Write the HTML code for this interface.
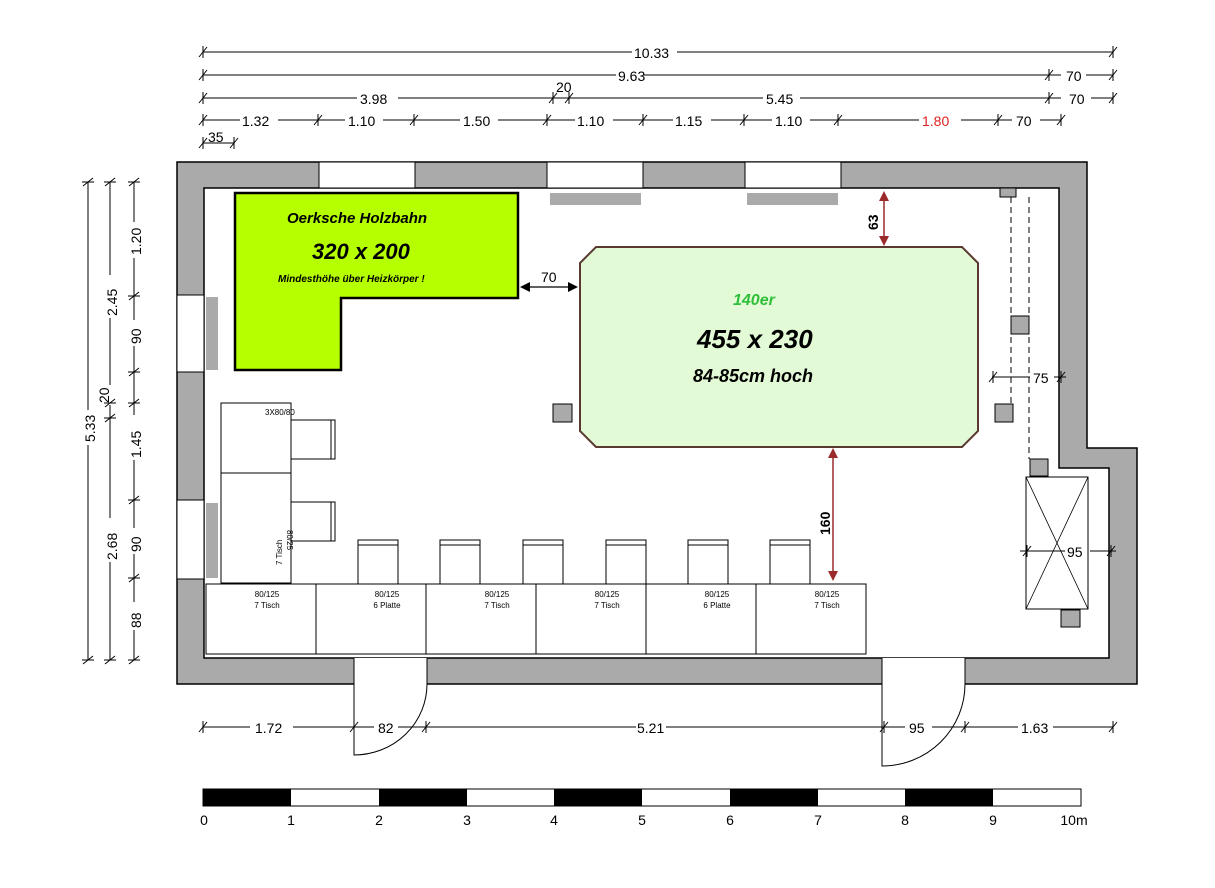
<!DOCTYPE html>
<html><head><meta charset="utf-8"><style>
html,body{margin:0;padding:0;background:#fff;}
svg{display:block;}
.d{font-family:"Liberation Sans",sans-serif;font-size:14px;fill:#000;}
.s{font-family:"Liberation Sans",sans-serif;font-size:8px;fill:#000;}
.c{font-family:"Comic Sans MS","Liberation Sans",sans-serif;font-weight:bold;font-style:italic;}
</style></head><body>
<svg width="1215" height="888" viewBox="0 0 1215 888" xmlns="http://www.w3.org/2000/svg">
<defs>
<g id="t"><line x1="0" y1="-6" x2="0" y2="6" stroke="#000" stroke-width="1"/><line x1="-4" y1="5" x2="4" y2="-5" stroke="#000" stroke-width="1"/></g>
<g id="tv"><line x1="-6" y1="0" x2="6" y2="0" stroke="#000" stroke-width="1"/><line x1="-5" y1="4" x2="5" y2="-4" stroke="#000" stroke-width="1"/></g>
</defs>

<!-- walls -->
<path d="M177,162 H1087 V448 H1137 V684 H177 Z M204,188 V658 H1109 V468 H1059 V188 Z" fill="#aaaaaa" fill-rule="evenodd" stroke="#000" stroke-width="1.5"/>
<!-- window openings top -->
<rect x="319" y="162" width="96" height="26" fill="#fff" stroke="#000"/>
<rect x="547" y="162" width="96" height="26" fill="#fff" stroke="#000"/>
<rect x="745" y="162" width="96" height="26" fill="#fff" stroke="#000"/>
<!-- left windows -->
<rect x="177" y="295" width="27" height="77" fill="#fff" stroke="#000"/>
<rect x="177" y="500" width="27" height="79" fill="#fff" stroke="#000"/>
<!-- door openings -->
<rect x="354" y="658" width="73" height="27" fill="#fff"/>
<rect x="882" y="658" width="83" height="27" fill="#fff"/>
<line x1="354" y1="658" x2="354" y2="684" stroke="#000"/>
<line x1="427" y1="658" x2="427" y2="684" stroke="#000"/>
<line x1="882" y1="658" x2="882" y2="684" stroke="#000"/>
<line x1="965" y1="658" x2="965" y2="684" stroke="#000"/>
<!-- doors -->
<path d="M354,684 V755 A73,71 0 0 0 427,684" fill="none" stroke="#000" stroke-width="1"/>
<path d="M882,684 V766 A83,82 0 0 0 965,684" fill="none" stroke="#000" stroke-width="1"/>

<!-- radiators -->
<rect x="550" y="193" width="91" height="12" fill="#aaa"/>
<rect x="747" y="193" width="91" height="12" fill="#aaa"/>
<rect x="206" y="297" width="12" height="73" fill="#aaa"/>
<rect x="206" y="503" width="12" height="75" fill="#aaa"/>

<!-- green Holzbahn -->
<path d="M235,193 H518 V298 H341 V370 H235 Z" fill="#b5ff00" stroke="#000" stroke-width="2.5"/>
<text class="c" x="287" y="223" font-size="15">Oerksche Holzbahn</text>
<text class="c" x="312" y="259" font-size="22">320 x 200</text>
<text class="c" x="278" y="282" font-size="10">Mindesthöhe über Heizkörper !</text>

<!-- 70 arrow -->
<line x1="527" y1="287" x2="572" y2="287" stroke="#000" stroke-width="1.2"/>
<path d="M520,287 L530,282 L530,292 Z M578,287 L568,282 L568,292 Z" fill="#000"/>
<text class="d" x="541" y="282" font-size="14">70</text>

<!-- big table -->
<path d="M596,247 H962 L978,263 V431 L962,447 H596 L580,431 V263 Z" fill="#e2fbd6" stroke="#5a3a30" stroke-width="2"/>
<text class="c" x="733" y="305" font-size="16" fill="#2fbf3a">140er</text>
<text class="c" x="697" y="348" font-size="26">455 x 230</text>
<text class="c" x="693" y="382" font-size="18">84-85cm hoch</text>

<!-- red arrows -->
<line x1="884" y1="198" x2="884" y2="240" stroke="#9b2a2a" stroke-width="1.5"/>
<path d="M884,191 L879,201 L889,201 Z M884,246 L879,236 L889,236 Z" fill="#9b2a2a"/>
<text class="d" font-size="13" font-weight="bold" fill="#9b2a2a" transform="translate(878,230) rotate(-90)">63</text>
<line x1="833" y1="455" x2="833" y2="574" stroke="#9b2a2a" stroke-width="1.5"/>
<path d="M833,448 L828,458 L838,458 Z M833,581 L828,571 L838,571 Z" fill="#9b2a2a"/>
<text class="d" font-size="13" font-weight="bold" fill="#9b2a2a" transform="translate(830,535) rotate(-90)">160</text>

<!-- small squares -->
<g fill="#aaa" stroke="#000" stroke-width="1">
<rect x="553" y="404" width="19" height="18"/>
<rect x="995" y="404" width="18" height="18"/>
<rect x="1011" y="316" width="18" height="18"/>
<rect x="1030" y="459" width="18" height="17"/>
<rect x="1061" y="610" width="19" height="17"/>
<rect x="1000" y="188" width="16" height="9"/>
</g>
<line x1="1011" y1="197" x2="1011" y2="404" stroke="#000" stroke-dasharray="6,4"/>
<line x1="1029" y1="197" x2="1029" y2="459" stroke="#000" stroke-dasharray="6,4"/>
<!-- X box -->
<rect x="1026" y="477" width="62" height="132" fill="#fff" stroke="#000"/>
<path d="M1026,477 L1088,609 M1088,477 L1026,609" stroke="#000" stroke-width="0.8"/>
<!-- 75 dim -->
<line x1="992" y1="377" x2="1030" y2="377" stroke="#000"/>
<line x1="1054" y1="377" x2="1066" y2="377" stroke="#000"/>
<use href="#t" x="993" y="377"/><use href="#t" x="1061" y="377"/>
<text class="d" x="1033" y="383">75</text>
<!-- 95 dim -->
<line x1="1020" y1="551" x2="1065" y2="551" stroke="#000"/>
<line x1="1090" y1="551" x2="1116" y2="551" stroke="#000"/>
<use href="#t" x="1027" y="551"/><use href="#t" x="1111" y="551"/>
<text class="d" x="1067" y="557">95</text>

<!-- left tables -->
<g fill="#fff" stroke="#000" stroke-width="1">
<rect x="221" y="403" width="70" height="70"/>
<rect x="221" y="473" width="70" height="110"/>
<rect x="291" y="420" width="44" height="39"/>
<rect x="331" y="420" width="4" height="39"/>
<rect x="291" y="502" width="44" height="39"/>
<rect x="331" y="502" width="4" height="39"/>
</g>
<text class="s" x="265" y="415" font-size="8">3X80/80</text>
<text class="s" font-size="8" transform="translate(282,565) rotate(90) scale(-1,-1)" >7 Tisch</text>
<text class="s" font-size="8" transform="translate(287,530) rotate(90)">80/25</text>

<!-- chairs bottom -->
<g fill="#fff" stroke="#000" stroke-width="1">
<rect x="358" y="540" width="40" height="44"/><line x1="358" y1="545" x2="398" y2="545"/>
<rect x="440" y="540" width="40" height="44"/><line x1="440" y1="545" x2="480" y2="545"/>
<rect x="523" y="540" width="40" height="44"/><line x1="523" y1="545" x2="563" y2="545"/>
<rect x="606" y="540" width="40" height="44"/><line x1="606" y1="545" x2="646" y2="545"/>
<rect x="688" y="540" width="40" height="44"/><line x1="688" y1="545" x2="728" y2="545"/>
<rect x="770" y="540" width="40" height="44"/><line x1="770" y1="545" x2="810" y2="545"/>
</g>
<!-- bottom tables -->
<g fill="#fff" stroke="#000" stroke-width="1">
<rect x="206" y="584" width="110" height="70"/>
<rect x="316" y="584" width="110" height="70"/>
<rect x="426" y="584" width="110" height="70"/>
<rect x="536" y="584" width="110" height="70"/>
<rect x="646" y="584" width="110" height="70"/>
<rect x="756" y="584" width="110" height="70"/>
</g>
<g class="s" font-size="8" text-anchor="middle">
<text x="267" y="597">80/125</text><text x="267" y="608">7 Tisch</text>
<text x="387" y="597">80/125</text><text x="387" y="608">6 Platte</text>
<text x="497" y="597">80/125</text><text x="497" y="608">7 Tisch</text>
<text x="607" y="597">80/125</text><text x="607" y="608">7 Tisch</text>
<text x="717" y="597">80/125</text><text x="717" y="608">6 Platte</text>
<text x="827" y="597">80/125</text><text x="827" y="608">7 Tisch</text>
</g>

<!-- top dimension lines -->
<g stroke="#000" stroke-width="1">
<line x1="203" y1="52" x2="632" y2="52"/><line x1="677" y1="52" x2="1113" y2="52"/>
<line x1="203" y1="75" x2="616" y2="75"/><line x1="643" y1="75" x2="1113" y2="75"/>
<line x1="203" y1="98" x2="357" y2="98"/><line x1="398" y1="98" x2="763" y2="98"/><line x1="800" y1="98" x2="1113" y2="98"/>
<line x1="203" y1="120" x2="1061" y2="120"/>
<line x1="203" y1="143" x2="234" y2="143"/>
</g>
<g fill="#fff">
<rect x="632" y="44" width="45" height="16"/>
<rect x="616" y="67" width="27" height="16"/><rect x="1061" y="67" width="25" height="16"/>
<rect x="357" y="90" width="41" height="16"/><rect x="763" y="90" width="37" height="16"/><rect x="1061" y="90" width="30" height="16"/>
<rect x="240" y="112" width="38" height="16"/><rect x="345" y="112" width="38" height="16"/><rect x="460" y="112" width="38" height="16"/>
<rect x="575" y="112" width="38" height="16"/><rect x="673" y="112" width="38" height="16"/><rect x="772" y="112" width="38" height="16"/>
<rect x="919" y="112" width="42" height="16"/><rect x="1012" y="112" width="28" height="16"/>
</g>
<g class="d">
<text x="634" y="58">10.33</text>
<text x="618" y="81">9.63</text><text x="1066" y="81">70</text>
<text x="360" y="104">3.98</text><text x="766" y="104">5.45</text><text x="1069" y="104">70</text>
<text x="556" y="92">20</text>
<text x="242" y="126">1.32</text><text x="348" y="126">1.10</text><text x="463" y="126">1.50</text>
<text x="577" y="126">1.10</text><text x="675" y="126">1.15</text><text x="775" y="126">1.10</text>
<text x="922" y="126" fill="#e02020">1.80</text><text x="1016" y="126">70</text>
<text x="208" y="142">35</text>
</g>
<use href="#t" x="203" y="52"/><use href="#t" x="1113" y="52"/>
<use href="#t" x="203" y="75"/><use href="#t" x="1049" y="75"/><use href="#t" x="1113" y="75"/>
<use href="#t" x="203" y="98"/><use href="#t" x="553" y="98"/><use href="#t" x="569" y="98"/><use href="#t" x="1049" y="98"/><use href="#t" x="1113" y="98"/>
<use href="#t" x="203" y="120"/><use href="#t" x="318" y="120"/><use href="#t" x="414" y="120"/><use href="#t" x="547" y="120"/><use href="#t" x="643" y="120"/><use href="#t" x="744" y="120"/><use href="#t" x="838" y="120"/><use href="#t" x="998" y="120"/><use href="#t" x="1061" y="120"/>
<use href="#t" x="203" y="143"/><use href="#t" x="234" y="143"/>

<!-- left vertical dims -->
<g stroke="#000" stroke-width="1">
<line x1="88" y1="182" x2="88" y2="410"/><line x1="88" y1="445" x2="88" y2="660"/>
<line x1="110" y1="182" x2="110" y2="275"/><line x1="110" y1="318" x2="110" y2="385"/><line x1="110" y1="405" x2="110" y2="518"/><line x1="110" y1="562" x2="110" y2="660"/>
<line x1="134" y1="182" x2="134" y2="222"/><line x1="134" y1="258" x2="134" y2="320"/><line x1="134" y1="346" x2="134" y2="415"/><line x1="134" y1="460" x2="134" y2="528"/><line x1="134" y1="554" x2="134" y2="602"/><line x1="134" y1="630" x2="134" y2="660"/>
</g>
<use href="#tv" x="88" y="182"/><use href="#tv" x="88" y="660"/>
<use href="#tv" x="110" y="182"/><use href="#tv" x="110" y="403"/><use href="#tv" x="110" y="418"/><use href="#tv" x="110" y="660"/>
<use href="#tv" x="134" y="182"/><use href="#tv" x="134" y="296"/><use href="#tv" x="134" y="372"/><use href="#tv" x="134" y="403"/><use href="#tv" x="134" y="500"/><use href="#tv" x="134" y="578"/><use href="#tv" x="134" y="660"/>
<g class="d">
<text transform="translate(95,442) rotate(-90)">5.33</text>
<text transform="translate(117,316) rotate(-90)">2.45</text>
<text transform="translate(117,560) rotate(-90)">2.68</text>
<text transform="translate(109,403) rotate(-90)">20</text>
<text transform="translate(141,255) rotate(-90)">1.20</text>
<text transform="translate(141,344) rotate(-90)">90</text>
<text transform="translate(141,458) rotate(-90)">1.45</text>
<text transform="translate(141,552) rotate(-90)">90</text>
<text transform="translate(141,628) rotate(-90)">88</text>
</g>

<!-- bottom dims -->
<g stroke="#000" stroke-width="1">
<line x1="203" y1="727" x2="250" y2="727"/><line x1="293" y1="727" x2="374" y2="727"/><line x1="398" y1="727" x2="636" y2="727"/><line x1="666" y1="727" x2="905" y2="727"/><line x1="932" y1="727" x2="1018" y2="727"/><line x1="1053" y1="727" x2="1113" y2="727"/>
</g>
<use href="#t" x="203" y="727"/><use href="#t" x="354" y="727"/><use href="#t" x="426" y="727"/><use href="#t" x="884" y="727"/><use href="#t" x="965" y="727"/><use href="#t" x="1113" y="727"/>
<g class="d">
<text x="255" y="733">1.72</text><text x="378" y="733">82</text><text x="637" y="733">5.21</text><text x="909" y="733">95</text><text x="1021" y="733">1.63</text>
</g>

<!-- scale bar -->
<rect x="203" y="789" width="878" height="17" fill="#fff" stroke="#000"/>
<g fill="#000">
<rect x="203" y="789" width="88" height="17"/>
<rect x="379" y="789" width="88" height="17"/>
<rect x="554" y="789" width="88" height="17"/>
<rect x="730" y="789" width="88" height="17"/>
<rect x="905" y="789" width="88" height="17"/>
</g>
<g class="d" font-size="15" text-anchor="middle">
<text x="204" y="825">0</text><text x="291" y="825">1</text><text x="379" y="825">2</text><text x="467" y="825">3</text><text x="554" y="825">4</text><text x="642" y="825">5</text><text x="730" y="825">6</text><text x="818" y="825">7</text><text x="905" y="825">8</text><text x="993" y="825">9</text><text x="1074" y="825">10m</text>
</g>
</svg>
</body></html>
